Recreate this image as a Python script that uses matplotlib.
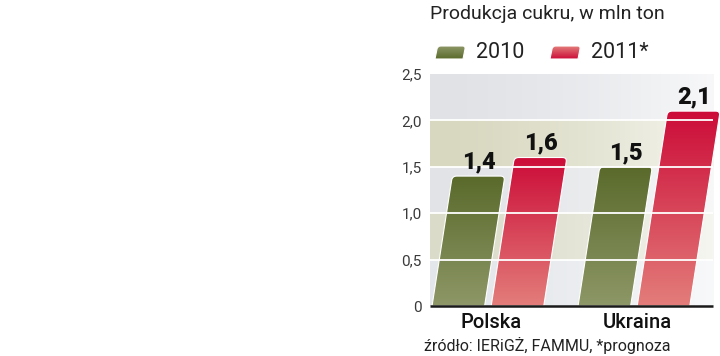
import numpy as np
import matplotlib
matplotlib.use("Agg")
import matplotlib.pyplot as plt
from matplotlib.path import Path
from matplotlib.patches import PathPatch
from matplotlib.colors import LinearSegmentedColormap, to_rgb

# === DONNÉES ===
TITLE = "Produkcja cukru, w mln ton"
SOURCE = "źródło: IERiGŻ, FAMMU, *prognoza"
countries = ["Polska", "Ukraina"]
years = ["2010", "2011*"]
values_2010 = [1.4, 1.5]
values_2011 = [1.6, 2.1]
value_labels_2010 = ["1,4", "1,5"]
value_labels_2011 = ["1,6", "2,1"]
y_ticks = [0, 0.5, 1.0, 1.5, 2.0, 2.5]
y_tick_labels = ["0", "0,5", "1,0", "1,5", "2,0", "2,5"]

# === STYLE ===
GREEN = ("#5a6a2b", "#8d9767")   # haut, bas
RED = ("#cc0c38", "#e37d7a")
BAND_COLS = ["#e3e6ea", "#dadbc8", "#e1e3e6", "#d8d8c0", "#e0e2e6"]
BAR_W = 0.36
BAR_STEP = 0.405
SLANT = 0.099          # décalage x (en unités de groupe) par unité y
X_MIN, X_END, X_MAX = -0.014, 1.925, 1.972   # fin du fond / des lignes = X_END
TEXT_FONT = "Roboto"
NUM_FONT = "Roboto"


def slanted_path(x0, w, v, s, rx, ry):
    """Parallélogramme penché avec coins supérieurs arrondis."""
    bl = (x0, 0)
    br = (x0 + w, 0)
    tr = (x0 + w + s * v, v)
    tl = (x0 + s * v, v)
    verts = [bl, br,
             (tr[0] - s * ry, v - ry), tr, (tr[0] - rx, v),
             (tl[0] + rx, v), tl, (tl[0] - s * ry, v - ry),
             bl, bl]
    codes = [Path.MOVETO, Path.LINETO,
             Path.LINETO, Path.CURVE3, Path.CURVE3,
             Path.LINETO, Path.CURVE3, Path.CURVE3,
             Path.LINETO, Path.CLOSEPOLY]
    return Path(verts, codes)


def gradient_fill(ax, path, cols, extent, zorder=2):
    top, bottom = cols
    cmap = LinearSegmentedColormap.from_list("g", [bottom, top])
    grad = np.linspace(0, 1, 128).reshape(-1, 1)
    patch = PathPatch(path, facecolor="none", edgecolor="white", lw=0.8,
                      zorder=zorder + 0.1)
    ax.add_patch(patch)
    im = ax.imshow(grad, cmap=cmap, aspect="auto", origin="lower",
                   extent=extent, zorder=zorder, interpolation="bilinear")
    im.set_clip_path(patch)


fig = plt.figure(figsize=(7.2, 3.56), dpi=100)
ax = fig.add_axes([430 / 720, 50 / 356, 290 / 720, 232 / 356])

# fond en bandes avec dégradé horizontal
for i, c in enumerate(BAND_COLS):
    base = np.array(to_rgb(c))
    t = np.linspace(0, 1, 200)
    row = base[None, :] * (1 - 0.75 * t[:, None] ** 1.5) + 0.75 * t[:, None] ** 1.5
    ax.imshow(row[None, :, :], aspect="auto", extent=(X_MIN, X_END, 0.5 * i, 0.5 * (i + 1)),
              zorder=0, interpolation="bilinear")

# barres
rx, ry = 0.03, 0.045
for g, (v10, v11, l10, l11) in enumerate(zip(values_2010, values_2011,
                                              value_labels_2010, value_labels_2011)):
    for j, (v, lab, cols) in enumerate([(v10, l10, GREEN), (v11, l11, RED)]):
        x0 = g + j * BAR_STEP
        p = slanted_path(x0, BAR_W, v, SLANT, rx, ry)
        gradient_fill(ax, p, cols, (x0, x0 + BAR_W + SLANT * v, 0, v))
        ax.text(x0 + SLANT * v + BAR_W / 2, v + 0.03, lab, ha="center", va="bottom",
                fontsize=17, fontweight="heavy", family=NUM_FONT,
                color="#111111", zorder=5, clip_on=False)

# lignes de grille blanches et ligne de base
ax.hlines(y_ticks[1:-1], X_MIN, X_END, color="white", lw=1.3, zorder=4)
ax.hlines(0, X_MIN, X_END, color="#1a1a1a", lw=1.8, zorder=6, clip_on=False)

ax.set_xlim(X_MIN, X_MAX)
ax.set_ylim(0, 2.5)
for s in ax.spines.values():
    s.set_visible(False)

ax.set_yticks(y_ticks)
ax.set_yticklabels(y_tick_labels, family=TEXT_FONT, fontweight="normal",
                   fontsize=11, color="#3a3a3a")
ax.tick_params(axis="y", length=0, pad=6)

centers = [g + (BAR_STEP + BAR_W) / 2 + 0.02 for g in range(len(countries))]
ax.set_xticks(centers)
ax.set_xticklabels(countries, family=TEXT_FONT, fontweight="medium",
                   fontsize=14.5, color="#111111")
ax.tick_params(axis="x", length=0, pad=5)

# titre, légende et source en coordonnées pixel
lax = fig.add_axes([0, 0, 1, 1], zorder=-1)
lax.set_xlim(0, 720)
lax.set_ylim(356, 0)
lax.axis("off")

fig.text(430 / 720, 1 - 14 / 356, TITLE, ha="left", va="center",
         family=TEXT_FONT, fontweight="normal", fontsize=14, color="#222222")

for (x, cols, lab) in [(435, GREEN, years[0]), (550, RED, years[1])]:
    sw = slanted_path(x, 28, 13, 0.2, 3, 3)
    # coordonnées pixel: y vers le bas, on retourne le chemin
    verts = sw.vertices.copy()
    verts[:, 1] = 59 - verts[:, 1]
    sp = Path(verts, sw.codes)
    gradient_fill(lax, sp, (cols[1], cols[0]), (x, x + 32, 59, 46), zorder=3)
    lax.text(x + 41, 53, lab, ha="left", va="center", family=TEXT_FONT,
             fontweight="normal", fontsize=15.5, color="#222222")

fig.text(547 / 720, 1 - 345 / 356, SOURCE, ha="center", va="center",
         family=TEXT_FONT, fontweight="normal", fontsize=11.5, color="#222222")

fig.savefig("out.png", dpi=100)
